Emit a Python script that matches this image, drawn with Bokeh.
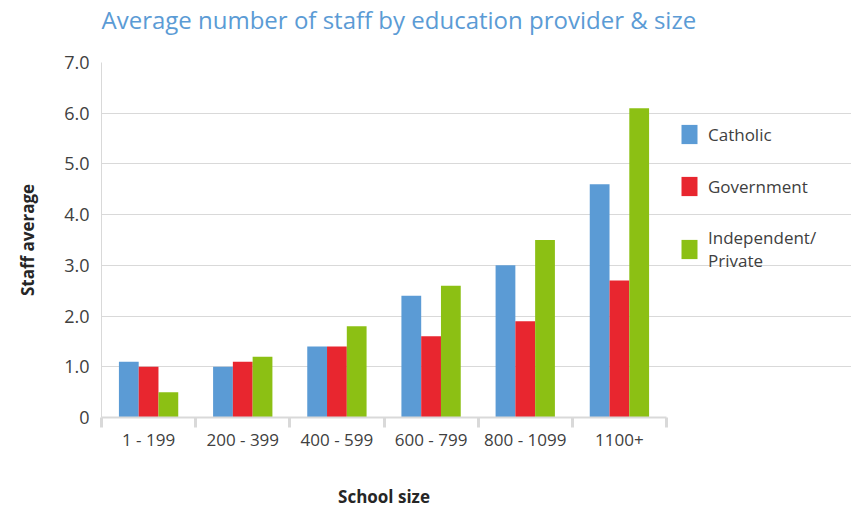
from bokeh.plotting import figure
from bokeh.models import (Range1d, LinearAxis, FixedTicker, Title,
                          Legend, LegendItem, ColumnDataSource)
from bokeh.transform import dodge
from bokeh.embed import file_html
from bokeh.resources import INLINE

categories = ["1 - 199", "200 - 399", "400 - 599", "600 - 799", "800 - 1099", "1100+"]
catholic = [1.1, 1.0, 1.4, 2.4, 3.0, 4.6]
government = [1.0, 1.1, 1.4, 1.6, 1.9, 2.7]
independent = [0.5, 1.2, 1.8, 2.6, 3.5, 6.1]
y_ticks = [0, 1, 2, 3, 4, 5, 6, 7]
y_tick_labels = ["0", "1.0", "2.0", "3.0", "4.0", "5.0", "6.0", "7.0"]
series_names = ["Catholic", "Government", "Independent/\nPrivate"]
title_text = "Average number of staff by education provider & size"
x_title = "School size"
y_title = "Staff average"

n = len(categories)
centers = [i + 0.5 for i in range(n)]
bounds = list(range(n + 1))

src = ColumnDataSource(dict(x=centers, catholic=catholic,
                            government=government, independent=independent))

FONT = "Open Sans"
TXT = "#404040"
GRID = "#d9d9d9"

# frame spans 101..851 px; the category area covers 101..666 px, the rest holds the legend
FRAME_W = 750
CAT_W = 565
x_end = n * FRAME_W / CAT_W

p = figure(width=851, height=510, title=None,
           x_range=Range1d(0, x_end), y_range=Range1d(0, 7),
           output_backend="svg", toolbar_location=None,
           x_axis_location=None,
           min_border_left=101, min_border_right=0,
           min_border_top=0, min_border_bottom=93)
p.outline_line_color = None
p.background_fill_color = "white"
p.border_fill_color = "white"

# titles: a small spacer next to the frame, the main title above it
spacer = Title(text=" ", text_font=FONT, text_font_size="10px", standoff=7)
main_title = Title(text=title_text, text_font=FONT, text_font_style="normal",
                   text_font_size="24px", text_color="#5b9bd5", align="left",
                   vertical_align="top", standoff=4)
p.add_layout(spacer, "above")
p.add_layout(main_title, "above")

# y axis
ya = p.yaxis[0]
ya.ticker = FixedTicker(ticks=y_ticks)
ya.major_label_overrides = {t: l for t, l in zip(y_ticks, y_tick_labels)}
ya.major_tick_in = 0
ya.major_tick_out = 0
ya.minor_tick_in = 0
ya.minor_tick_out = 0
ya.axis_line_color = GRID
ya.major_label_text_font = FONT
ya.major_label_text_font_size = "18px"
ya.major_label_text_color = TXT
ya.major_label_standoff = 12
ya.axis_label = y_title
ya.axis_label_text_font = FONT
ya.axis_label_text_font_style = "bold"
ya.axis_label_text_font_size = "17px"
ya.axis_label_text_color = "#262626"
ya.axis_label_standoff = 22

p.ygrid.ticker = FixedTicker(ticks=y_ticks)
p.ygrid.grid_line_color = GRID
p.ygrid.bounds = (0, n)
for g in p.xgrid:
    g.visible = False

# boundary tick axis (closest to the frame)
tick_ax = LinearAxis(ticker=FixedTicker(ticks=bounds), bounds=(0, n),
                     major_tick_out=10, major_tick_in=0,
                     minor_tick_out=0, minor_tick_in=0,
                     major_label_overrides={t: "" for t in bounds},
                     major_label_text_font_size="1px", major_label_standoff=0,
                     axis_line_color=GRID, axis_line_width=2,
                     major_tick_line_color=GRID, major_tick_line_width=3)
p.add_layout(tick_ax, "below")

# category label axis
cat_ax = LinearAxis(ticker=FixedTicker(ticks=centers), bounds=(0, n),
                    major_label_overrides={c: lab for c, lab in zip(centers, categories)},
                    major_tick_line_color=None, axis_line_color=None,
                    minor_tick_line_color=None,
                    major_label_standoff=-6,
                    major_label_text_font=FONT, major_label_text_font_size="17px",
                    major_label_text_color=TXT)
p.add_layout(cat_ax, "below")

# x-axis title, centred under the category area
mid = n / 2
xlab_ax = LinearAxis(ticker=FixedTicker(ticks=[mid]), bounds=(0, n),
                     major_label_overrides={mid: x_title},
                     major_tick_line_color=None, axis_line_color=None,
                     minor_tick_line_color=None,
                     major_label_standoff=25,
                     major_label_text_font=FONT, major_label_text_font_size="17px",
                     major_label_text_font_style="bold",
                     major_label_text_color="#262626")
p.add_layout(xlab_ax, "below")

W = 0.21
r1 = p.vbar(x=dodge("x", -W), top="catholic", width=W, source=src,
            fill_color="#5b9bd5", line_color=None)
r2 = p.vbar(x=dodge("x", 0), top="government", width=W, source=src,
            fill_color="#e8262f", line_color=None)
r3 = p.vbar(x=dodge("x", W), top="independent", width=W, source=src,
            fill_color="#8cc014", line_color=None)

legend = Legend(items=[LegendItem(label=series_names[0], renderers=[r1]),
                       LegendItem(label=series_names[1], renderers=[r2]),
                       LegendItem(label=series_names[2], renderers=[r3])],
                location=(578, 145), margin=0, padding=0,
                border_line_color=None, background_fill_alpha=0,
                glyph_width=20, glyph_height=24, spacing=28, label_standoff=9,
                label_text_font=FONT, label_text_font_size="17px",
                label_text_color=TXT)
p.add_layout(legend, "center")

open("out.html", "w").write(file_html(p, INLINE))
